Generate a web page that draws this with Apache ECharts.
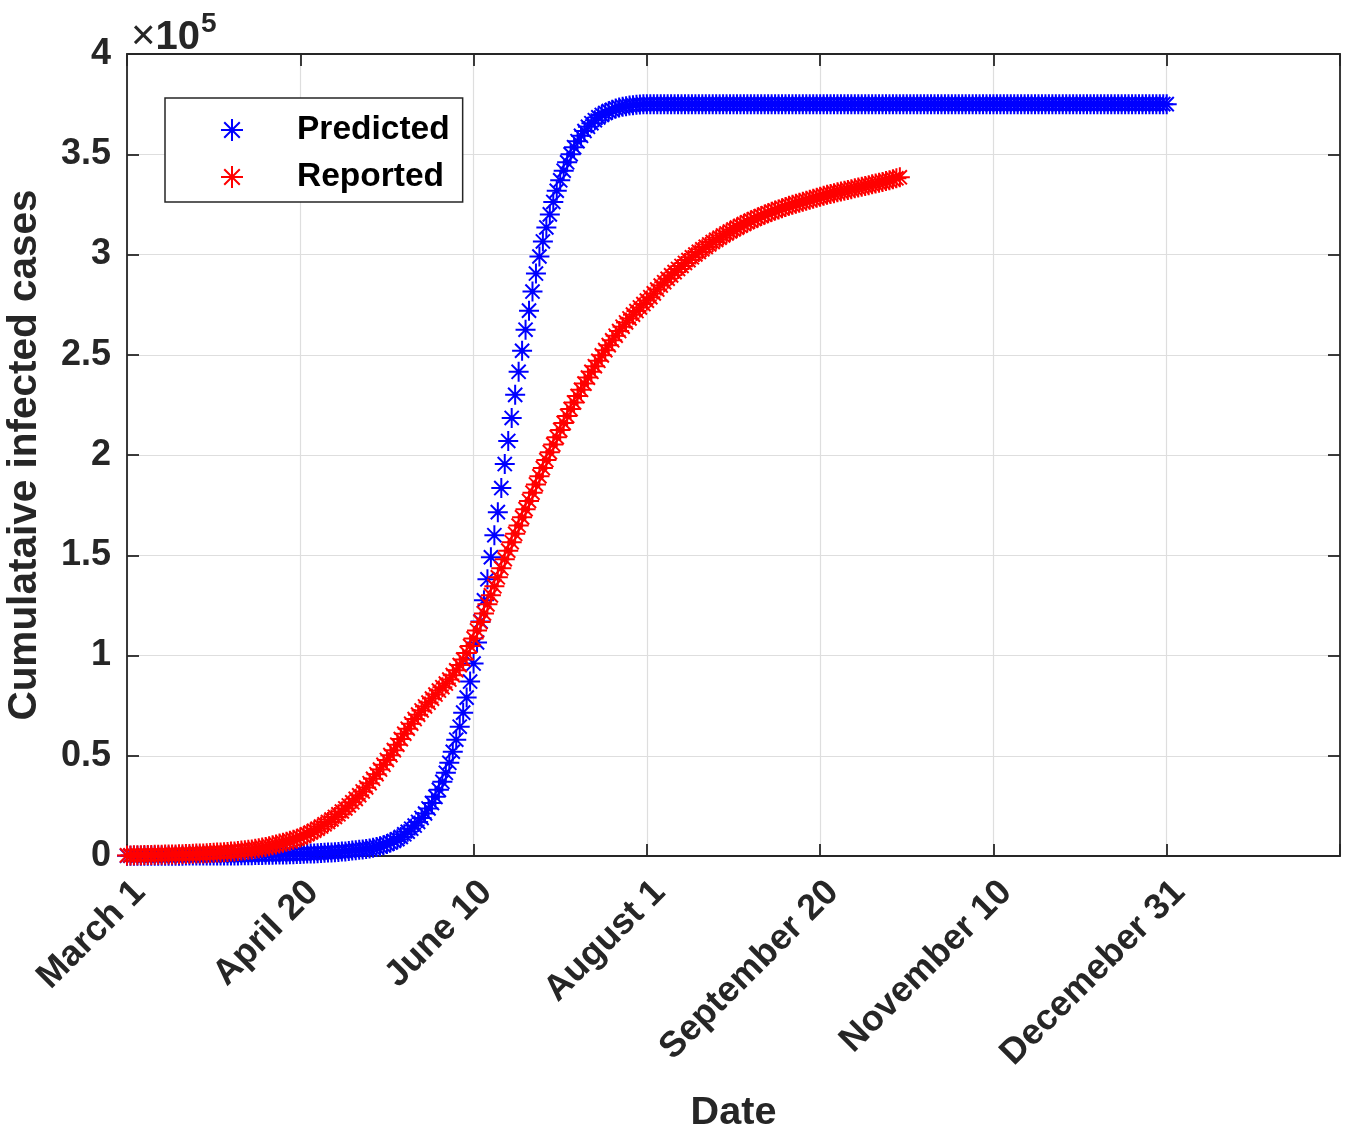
<!DOCTYPE html>
<html>
<head>
<meta charset="utf-8">
<script src="https://cdn.jsdelivr.net/npm/echarts@6/dist/echarts.min.js"></script>
<style>
html,body{margin:0;padding:0;background:#fff;}
#chart{width:1347px;height:1133px;}
</style>
</head>
<body>
<div id="chart"></div>
<script>
// Day index 0 = March 1; values in units of 1e5 cases
const xTickLabels = ['March 1','April 20','June 10','August 1','September 20','November 10','Decemeber 31',''];
const yTickValues = [0,0.5,1,1.5,2,2.5,3,3.5,4];
const seriesNames = ['Predicted','Reported'];

const predicted = [
0.001,0.001,0.001,0.001,0.001,0.001,0.001,0.001,0.001,0.001,
0.001,0.001,0.001,0.001,0.001,0.001,0.001,0.002,0.002,0.002,
0.002,0.002,0.002,0.002,0.002,0.002,0.003,0.003,0.003,0.003,
0.003,0.003,0.003,0.004,0.004,0.004,0.004,0.005,0.005,0.005,
0.006,0.006,0.006,0.007,0.007,0.008,0.008,0.009,0.009,0.010,
0.010,0.011,0.012,0.012,0.013,0.014,0.015,0.016,0.017,0.018,
0.019,0.020,0.022,0.023,0.025,0.027,0.029,0.031,0.033,0.035,
0.038,0.041,0.045,0.049,0.054,0.060,0.067,0.075,0.084,0.095,
0.108,0.121,0.136,0.152,0.170,0.190,0.212,0.237,0.264,0.295,
0.330,0.370,0.415,0.465,0.520,0.580,0.645,0.715,0.790,0.870,
0.960,1.065,1.170,1.275,1.380,1.490,1.600,1.715,1.835,1.955,
2.070,2.185,2.300,2.415,2.520,2.625,2.720,2.815,2.905,2.990,
3.065,3.135,3.200,3.262,3.318,3.370,3.418,3.460,3.500,3.535,
3.565,3.592,3.616,3.637,3.655,3.670,3.684,3.696,3.706,3.715,
3.722,3.728,3.733,3.737,3.740,3.743,3.745,3.747,3.748,3.749,
3.75,3.75,3.75,3.75,3.75,3.75,3.75,3.75,3.75,3.75,
3.75,3.75,3.75,3.75,3.75,3.75,3.75,3.75,3.75,3.75,
3.75,3.75,3.75,3.75,3.75,3.75,3.75,3.75,3.75,3.75,
3.75,3.75,3.75,3.75,3.75,3.75,3.75,3.75,3.75,3.75,
3.75,3.75,3.75,3.75,3.75,3.75,3.75,3.75,3.75,3.75,
3.75,3.75,3.75,3.75,3.75,3.75,3.75,3.75,3.75,3.75,
3.75,3.75,3.75,3.75,3.75,3.75,3.75,3.75,3.75,3.75,
3.75,3.75,3.75,3.75,3.75,3.75,3.75,3.75,3.75,3.75,
3.75,3.75,3.75,3.75,3.75,3.75,3.75,3.75,3.75,3.75,
3.75,3.75,3.75,3.75,3.75,3.75,3.75,3.75,3.75,3.75,
3.75,3.75,3.75,3.75,3.75,3.75,3.75,3.75,3.75,3.75,
3.75,3.75,3.75,3.75,3.75,3.75,3.75,3.75,3.75,3.75,
3.75,3.75,3.75,3.75,3.75,3.75,3.75,3.75,3.75,3.75,
3.75,3.75,3.75,3.75,3.75,3.75,3.75,3.75,3.75,3.75,
3.75,3.75,3.75,3.75,3.75,3.75,3.75,3.75,3.75,3.75,
3.75
];

const reported = [
0.003,0.003,0.004,0.004,0.004,0.005,0.005,0.005,0.006,0.006,
0.006,0.007,0.007,0.008,0.008,0.009,0.009,0.010,0.010,0.011,
0.012,0.012,0.013,0.014,0.015,0.016,0.017,0.018,0.019,0.020,
0.022,0.023,0.025,0.027,0.029,0.031,0.033,0.036,0.039,0.042,
0.045,0.049,0.053,0.057,0.062,0.066,0.071,0.076,0.081,0.086,
0.092,0.100,0.108,0.117,0.126,0.136,0.147,0.158,0.170,0.182,
0.195,0.208,0.222,0.237,0.252,0.268,0.285,0.303,0.322,0.342,
0.363,0.385,0.408,0.431,0.455,0.479,0.503,0.528,0.555,0.583,
0.610,0.635,0.660,0.683,0.705,0.726,0.746,0.765,0.785,0.805,
0.825,0.842,0.860,0.880,0.902,0.926,0.952,0.980,1.012,1.047,
1.085,1.125,1.167,1.210,1.255,1.300,1.345,1.390,1.435,1.480,
1.523,1.565,1.607,1.648,1.689,1.730,1.771,1.812,1.853,1.894,
1.935,1.975,2.014,2.052,2.089,2.125,2.160,2.195,2.229,2.262,
2.294,2.325,2.356,2.386,2.415,2.443,2.470,2.497,2.523,2.548,
2.572,2.595,2.618,2.640,2.661,2.681,2.700,2.718,2.736,2.753,
2.770,2.787,2.806,2.825,2.845,2.862,2.879,2.896,2.912,2.928,
2.943,2.958,2.972,2.986,3.000,3.013,3.026,3.038,3.050,3.062,
3.073,3.084,3.095,3.105,3.115,3.125,3.134,3.143,3.152,3.161,
3.169,3.177,3.185,3.192,3.199,3.206,3.213,3.219,3.225,3.231,
3.237,3.243,3.248,3.253,3.258,3.263,3.268,3.273,3.278,3.283,
3.288,3.293,3.298,3.302,3.306,3.310,3.314,3.318,3.322,3.326,
3.330,3.334,3.338,3.342,3.346,3.350,3.354,3.358,3.362,3.366,
3.370,3.375,3.380,3.385
];

const asterisk = 'path://M0,-10L0,10M-10,0L10,0M-7.07,-7.07L7.07,7.07M-7.07,7.07L7.07,-7.07';
const axisColor = '#262626';
const FONT = '"Liberation Sans", Arial, Helvetica, sans-serif';

const chart = echarts.init(document.getElementById('chart'), null, {renderer:'canvas'});

const option = {
  animation:false,
  backgroundColor:'#ffffff',
  grid: {left:127, top:54, width:1213, height:802, containLabel:false, outerBoundsMode:'none'},
  legend: {
    data: seriesNames,
    orient:'vertical',
    left:165, top:98,
    backgroundColor:'#ffffff',
    borderColor:axisColor, borderWidth:1.5, borderRadius:0,
    padding:[15,13,8,55],
    itemWidth:120, itemHeight:22, itemGap:13,
    symbolKeepAspect:true,
    textStyle:{fontFamily:FONT, fontSize:33.5, fontWeight:'bold', color:'#000000'}
  },
  xAxis: [{
    type:'value', min:0, max:350, interval:50,
    position:'bottom',
    name:'Date', nameLocation:'middle', nameGap:237,
    nameTextStyle:{fontFamily:FONT, fontSize:39.6, fontWeight:'bold', color:axisColor},
    axisLine:{show:true, onZero:false, lineStyle:{color:axisColor, width:1.8}},
    axisTick:{show:true, inside:true, length:12, lineStyle:{color:axisColor, width:1.8}},
    axisLabel:{rotate:45, margin:18, verticalAlign:'top', fontFamily:FONT, fontSize:36, fontWeight:'bold', color:axisColor,
      formatter:function(v){ return xTickLabels[Math.round(v/50)] || ''; }},
    splitLine:{show:true, lineStyle:{color:'#dedede', width:1.2}}
  },{
    type:'value', min:0, max:350, interval:50, position:'top',
    axisLine:{show:true, onZero:false, lineStyle:{color:axisColor, width:1.8}},
    axisTick:{show:true, inside:true, length:12, lineStyle:{color:axisColor, width:1.8}},
    axisLabel:{show:false}, splitLine:{show:false}
  }],
  yAxis: [{
    type:'value', min:0, max:4, interval:0.5,
    position:'left',
    name:'Cumulataive infected cases', nameLocation:'middle', nameGap:82,
    nameTextStyle:{fontFamily:FONT, fontSize:40.5, fontWeight:'bold', color:axisColor},
    axisLine:{show:true, onZero:false, lineStyle:{color:axisColor, width:1.8}},
    axisTick:{show:true, inside:true, length:12, lineStyle:{color:axisColor, width:1.8}},
    axisLabel:{margin:16, fontFamily:FONT, fontSize:36, fontWeight:'bold', color:axisColor,
      formatter:function(v){ return String(v); }},
    splitLine:{show:true, lineStyle:{color:'#dedede', width:1.2}}
  },{
    type:'value', min:0, max:4, interval:0.5, position:'right',
    axisLine:{show:true, onZero:false, lineStyle:{color:axisColor, width:1.8}},
    axisTick:{show:true, inside:true, length:12, lineStyle:{color:axisColor, width:1.8}},
    axisLabel:{show:false}, splitLine:{show:false}
  }],
  graphic:[{
    type:'text', left:131, top:10,
    style:{
      text:'{a|×}{b|10}{c|5}',
      rich:{
        a:{fontFamily:FONT, fontSize:42, fontWeight:'normal', fill:axisColor, verticalAlign:'bottom'},
        b:{fontFamily:FONT, fontSize:40, fontWeight:'bold', fill:axisColor, verticalAlign:'bottom'},
        c:{fontFamily:FONT, fontSize:28, fontWeight:'bold', fill:axisColor, verticalAlign:'top', padding:[0,0,20,1]}
      }
    }
  }],
  series: [{
    name:seriesNames[0], type:'scatter',
    symbol:asterisk, symbolSize:20, symbolKeepAspect:true,
    itemStyle:{color:'rgba(0,0,255,0)', borderColor:'#0000ff', borderWidth:2, opacity:1},
    emphasis:{disabled:true},
    data: predicted.map(function(v,i){ return [i, v]; }),
    z:2
  },{
    name:seriesNames[1], type:'scatter',
    symbol:asterisk, symbolSize:20, symbolKeepAspect:true,
    itemStyle:{color:'rgba(255,0,0,0)', borderColor:'#ff0000', borderWidth:2, opacity:1},
    emphasis:{disabled:true},
    data: reported.map(function(v,i){ return [i, v]; }),
    z:3
  }]
};
chart.setOption(option);
</script>
</body>
</html>
